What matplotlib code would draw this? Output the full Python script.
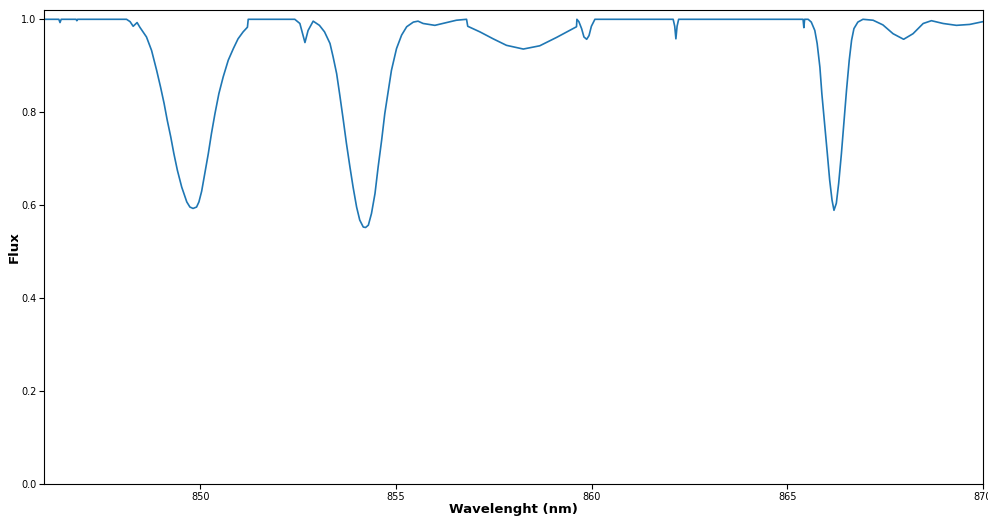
import matplotlib
matplotlib.use("Agg")
import matplotlib.pyplot as plt

# normalised spectrum around the Ca II triplet
wavelength = [
    846.00, 846.38, 846.41, 846.44, 846.82, 846.84, 846.86,
    848.11, 848.20, 848.28, 848.38, 848.45, 848.62, 848.75, 848.88,
    848.98, 849.07, 849.15, 849.24, 849.32, 849.41, 849.52, 849.65,
    849.73, 849.81, 849.90, 849.96, 850.03, 850.11, 850.20, 850.28,
    850.37, 850.47, 850.58, 850.71, 850.84, 850.96, 851.09, 851.20,
    851.22, 852.41, 852.54, 852.67, 852.75, 852.88, 853.04, 853.17,
    853.31, 853.39, 853.48, 853.56, 853.65, 853.73, 853.82, 853.90,
    853.99, 854.07, 854.16, 854.22, 854.29, 854.37, 854.46, 854.54,
    854.63, 854.71, 854.80, 854.88, 855.01, 855.14, 855.27, 855.44,
    855.56, 855.69, 855.99, 856.29, 856.54, 856.80,
    856.83, 857.14, 857.48, 857.82, 858.25, 858.67, 859.10, 859.61,
    859.62, 859.67, 859.74, 859.80, 859.87, 859.93, 859.99, 860.08,
    862.08, 862.12, 862.15, 862.18, 862.22,
    865.40, 865.42, 865.44, 865.53, 865.61, 865.70, 865.76, 865.83,
    865.88, 865.95, 866.02, 866.08, 866.14, 866.19, 866.25, 866.31,
    866.38, 866.45, 866.51, 866.58, 866.64, 866.70, 866.80, 866.93,
    867.19, 867.44, 867.70, 867.97, 868.21, 868.47, 868.68, 868.98,
    869.32, 869.66, 870.00,
]
flux = [
    1.000, 1.000, 0.993, 1.000, 1.000, 0.997, 1.000,
    1.000, 0.995, 0.985, 0.993, 0.983, 0.962, 0.933, 0.890,
    0.854, 0.819, 0.783, 0.747, 0.711, 0.675, 0.639, 0.607,
    0.596, 0.593, 0.596, 0.607, 0.630, 0.668, 0.711, 0.754,
    0.797, 0.840, 0.876, 0.912, 0.937, 0.958, 0.973, 0.983,
    1.000, 1.000, 0.991, 0.950, 0.976, 0.996, 0.987, 0.973,
    0.948, 0.919, 0.883, 0.837, 0.783, 0.733, 0.682, 0.639,
    0.596, 0.568, 0.553, 0.552, 0.557, 0.582, 0.625, 0.682,
    0.740, 0.797, 0.847, 0.890, 0.937, 0.966, 0.984, 0.994,
    0.996, 0.991, 0.987, 0.993, 0.998, 1.000,
    0.985, 0.973, 0.958, 0.944, 0.936, 0.943, 0.961, 0.984,
    1.000, 0.995, 0.980, 0.962, 0.957, 0.965, 0.985, 1.000,
    1.000, 0.985, 0.958, 0.985, 1.000,
    1.000, 0.982, 1.000, 1.000, 0.994, 0.976, 0.948, 0.897,
    0.840, 0.776, 0.711, 0.654, 0.611, 0.589, 0.604, 0.647,
    0.711, 0.783, 0.847, 0.912, 0.955, 0.980, 0.994, 1.000,
    0.998, 0.988, 0.969, 0.957, 0.969, 0.991, 0.997, 0.991,
    0.987, 0.989, 0.995,
]

fig = plt.figure(figsize=(9.88, 5.16), dpi=100)
ax = fig.add_axes([0.0445, 0.062, 0.9505, 0.9186])
ax.plot(wavelength, flux, color="#1f77b4", linewidth=1.2)
ax.set_xlim(846, 870)
ax.set_ylim(0, 1.02)
ax.set_xticks([850, 855, 860, 865, 870])
ax.set_yticks([0.0, 0.2, 0.4, 0.6, 0.8, 1.0])
ax.tick_params(labelsize=7, pad=2)
ax.set_xlabel("Wavelenght (nm)", fontsize=9.5, fontweight="bold", labelpad=1)
ax.set_ylabel("Flux", fontsize=9.5, fontweight="bold", labelpad=0)

fig.savefig("out.png", dpi=100)
